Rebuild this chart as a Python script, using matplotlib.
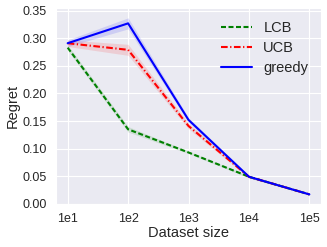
import numpy as np
import matplotlib.pyplot as plt
import seaborn as sns

sns.set_style("darkgrid")
plt.rcParams['font.family'] = ['Liberation Sans', 'DejaVu Sans']

sizes = ['1e1', '1e2', '1e3', '1e4', '1e5']
lcb = [0.283, 0.135, 0.093, 0.049, 0.017]
lcb_err = [0.005, 0.005, 0.002, 0.002, 0.001]
ucb = [0.291, 0.279, 0.141, 0.049, 0.017]
ucb_err = [0.006, 0.010, 0.005, 0.002, 0.001]
greedy = [0.291, 0.327, 0.152, 0.049, 0.017]
greedy_err = [0.006, 0.010, 0.004, 0.002, 0.001]

x = np.arange(len(sizes))
fig, ax = plt.subplots(figsize=(3.27, 2.47), dpi=100)

styles = [(lcb, lcb_err, 'green', (0, (2.4, 1.2)), 'LCB'),
          (ucb, ucb_err, 'red', (0, (3.2, 1.2, 0.6, 1.2)), 'UCB'),
          (greedy, greedy_err, 'blue', '-', 'greedy')]
for y, err, color, ls, name in styles:
    y = np.array(y)
    err = np.array(err)
    ax.plot(x, y, color=color, linestyle=ls, linewidth=1.5, label=name)
    ax.fill_between(x, y - err, y + err, color=color, alpha=0.12, linewidth=0)

ax.set_xticks(x)
ax.set_xticklabels(sizes)
ax.set_xlim(-0.2, 4.2)
ax.set_ylim(0, 0.355)
ax.set_yticks(np.arange(0, 0.351, 0.05))
ax.tick_params(labelsize=9, pad=3)
ax.set_xlabel('Dataset size', fontsize=10.5, labelpad=1)
ax.set_ylabel('Regret', fontsize=10.5, labelpad=2)
ax.legend(loc='upper right', frameon=False, fontsize=10.5, handlelength=2.1,
          labelspacing=0.4)

fig.subplots_adjust(left=0.17, right=0.983, top=0.968, bottom=0.175)
fig.savefig('out.png')
